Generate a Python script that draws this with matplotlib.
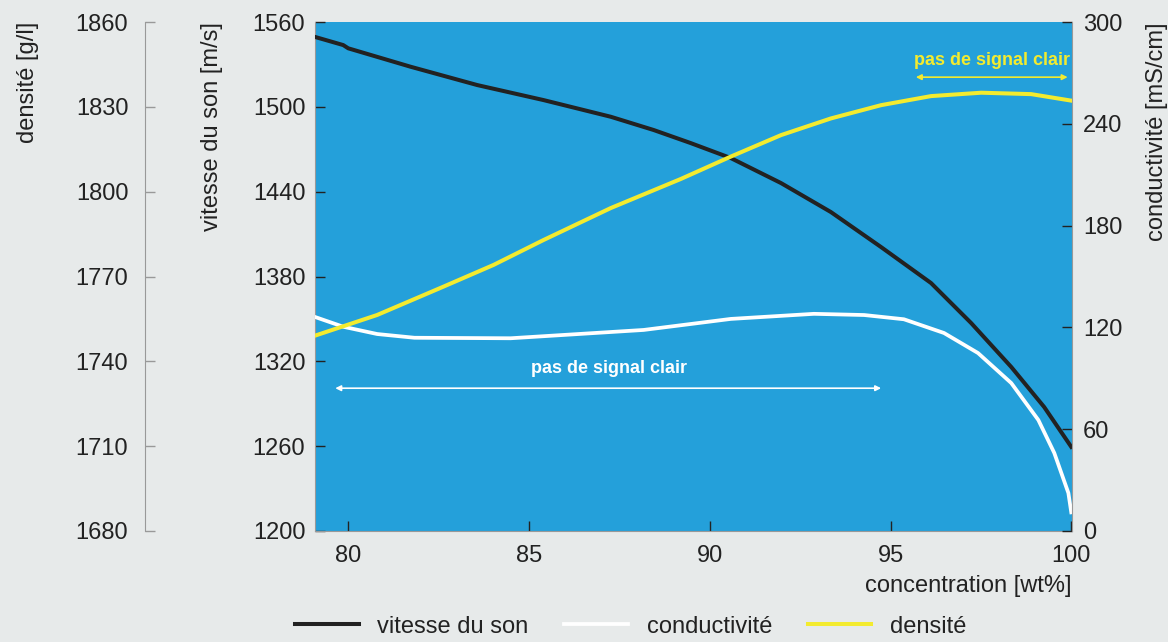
import numpy as np
import matplotlib.pyplot as plt

plt.rcParams['font.family'] = ['Liberation Sans', 'DejaVu Sans']

# concentration [wt%] and the three curves
conc_v = [79.06, 79.86, 80.0, 81.72, 83.57, 85.40, 87.26, 88.45, 89.47, 90.58,
          91.97, 93.35, 94.74, 96.12, 97.23, 98.34, 99.25, 100.0]
vitesse = [1549.6, 1543.7, 1541.4, 1528.4, 1515.4, 1504.8, 1493.0, 1483.6,
           1474.4, 1463.8, 1446.1, 1425.6, 1400.8, 1375.4, 1347.1, 1316.0,
           1287.7, 1259.5]

conc_c = [79.06, 79.86, 80.80, 81.83, 84.49, 88.17, 89.47, 90.58, 92.88, 94.27,
          95.37, 96.48, 97.42, 98.34, 99.09, 99.53, 99.92, 100.0]
conductivite = [126.3, 120.4, 116.1, 113.9, 113.6, 118.5, 122.0, 125.0, 128.0,
                127.3, 124.8, 116.7, 104.9, 87.2, 65.4, 46.0, 22.4, 11.0]

conc_d = [79.06, 80.80, 82.63, 84.02, 85.40, 87.26, 89.20, 90.58, 91.97, 93.35,
          94.74, 96.12, 97.51, 98.89, 100.0]
densite = [1749.0, 1756.4, 1766.4, 1774.1, 1782.9, 1794.2, 1804.5, 1812.4,
           1820.0, 1825.9, 1830.6, 1833.8, 1835.0, 1834.5, 1832.2]

x_ticks = [80, 85, 90, 95, 100]
v_ticks = [1200, 1260, 1320, 1380, 1440, 1500, 1560]
c_ticks = [0, 60, 120, 180, 240, 300]
d_ticks = [1680, 1710, 1740, 1770, 1800, 1830, 1860]

bg = '#e7eaea'
blue = '#24a0da'
black = '#222222'
yellow = '#f3eb2f'
txt = '#222222'

fig = plt.figure(figsize=(11.68, 6.42), dpi=100, facecolor=bg)
ax = fig.add_axes([0.2697, 0.1729, 0.6481, 0.7928])
ax.set_facecolor(blue)

ax_c = ax.twinx()
ax_d = ax.twinx()

ln_v, = ax.plot(conc_v, vitesse, color=black, lw=2.9, zorder=5,
                solid_joinstyle='round')
ln_c, = ax_c.plot(conc_c, conductivite, color='white', lw=2.7,
                  solid_joinstyle='round')
ln_d, = ax_d.plot(conc_d, densite, color=yellow, lw=2.9,
                  solid_joinstyle='round')

ax.set_xlim(79.08, 100.02)
ax.set_ylim(1200, 1560)
ax_c.set_ylim(0, 300)
ax_d.set_ylim(1680, 1860)

ax.set_xticks(x_ticks)
ax.set_yticks(v_ticks)
ax_c.set_yticks(c_ticks)
ax_d.set_yticks(d_ticks)

for a in [ax, ax_c, ax_d]:
    a.spines['top'].set_visible(False)
ax.spines['right'].set_visible(False)
ax.spines['left'].set_color('#999999')
ax.spines['bottom'].set_color('#999999')
ax_c.spines['left'].set_visible(False)
ax_c.spines['bottom'].set_visible(False)
ax_c.spines['right'].set_color('#999999')

# density axis far out on the left
ax_d.spines['right'].set_visible(False)
ax_d.spines['bottom'].set_visible(False)
ax_d.spines['left'].set_visible(True)
ax_d.spines['left'].set_position(('axes', -0.2246))
ax_d.spines['left'].set_color('#999999')
ax_d.yaxis.set_ticks_position('left')
ax_d.yaxis.set_label_position('left')

ax.tick_params(axis='both', direction='in', labelsize=17, colors=black,
               labelcolor=txt, length=7, width=1)
ax.tick_params(axis='y', pad=7)
ax.tick_params(axis='x', pad=10)
ax_c.tick_params(axis='y', direction='in', labelsize=17, colors=black,
                 labelcolor=txt, length=7, width=1, pad=8)
ax_d.tick_params(axis='y', direction='in', labelsize=17, colors='#999999',
                 labelcolor=txt, length=7, width=1, pad=12)

ax.set_xlabel('concentration [wt%]', fontsize=17, color=txt, loc='right', labelpad=6)
ax.set_ylabel('vitesse du son [m/s]', fontsize=17, color=txt, loc='top', labelpad=21)
ax_c.set_ylabel('conductivité [mS/cm]', fontsize=17, color=txt, loc='top', labelpad=17)
ax_d.set_ylabel('densité [g/l]', fontsize=17, color=txt, loc='top', labelpad=26)

# "no clear signal" annotations
ax.annotate('', xy=(79.64, 1301), xytext=(94.74, 1301),
            arrowprops=dict(arrowstyle='<|-|>', color='white', lw=1.2,
                            mutation_scale=8, shrinkA=0, shrinkB=0), zorder=6)
ax.text(87.2, 1315, 'pas de signal clair', color='white', fontsize=13,
        fontweight='bold', ha='center', va='center', zorder=6)
ax.annotate('', xy=(95.7, 1521), xytext=(99.9, 1521),
            arrowprops=dict(arrowstyle='<|-|>', color=yellow, lw=1.2,
                            mutation_scale=8, shrinkA=0, shrinkB=0), zorder=6)
ax.text(97.8, 1533, 'pas de signal clair', color=yellow, fontsize=13,
        fontweight='bold', ha='center', va='center', zorder=6)

fig.legend([ln_v, ln_c, ln_d], ['vitesse du son', 'conductivité', 'densité'],
           loc='center', bbox_to_anchor=(0.54, 0.024), ncol=3, frameon=False,
           fontsize=17, handlelength=2.7, columnspacing=1.5,
           labelcolor=txt)

fig.savefig('out.png', dpi=100, facecolor=bg)
